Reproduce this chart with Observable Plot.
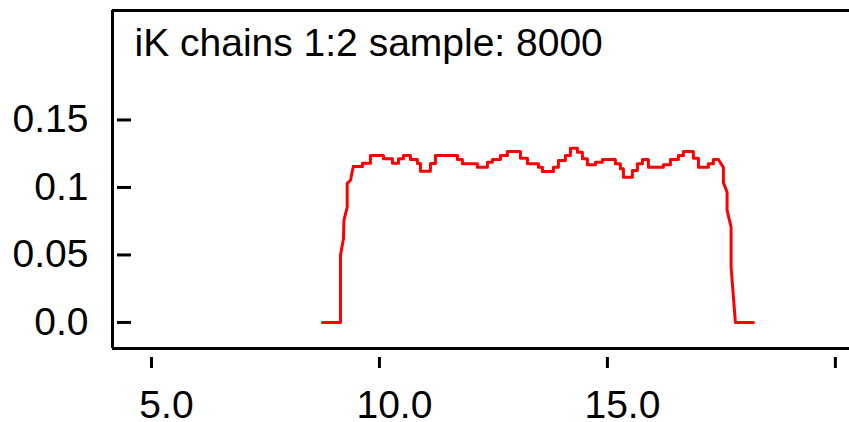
<!DOCTYPE html>
<html>
<head>
<meta charset="utf-8">
<script src="https://cdn.jsdelivr.net/npm/d3@7"></script>
<script src="https://cdn.jsdelivr.net/npm/@observablehq/plot@0.6"></script>
<style>
  html, body { margin: 0; padding: 0; background: #fff; }
  #chart svg { display: block; }
</style>
</head>
<body>
<div id="chart"></div>
<script>
// ---- data ----
const titleText = "iK chains 1:2 sample: 8000";
const xTickValues = [5, 10, 15, 20];
const xTickLabels = ["5.0", "10.0", "15.0", ""];
const yTickValues = [0, 0.05, 0.1, 0.15];
const yTickLabels = ["0.0", "0.05", "0.1", "0.15"];
const xDomain = [4.145, 20.31];
const yDomain = [-0.0193, 0.2311];

// rising edge of the density (polyline)
const riseX = [8.750, 9.145, 9.145, 9.211, 9.221, 9.292, 9.292, 9.364, 9.408, 9.430];
const riseY = [0, 0, 0.0496, 0.0622, 0.0756, 0.0852, 0.1030, 0.1052, 0.1126, 0.1156];

// plateau of the density (staircase, value holds until next x)
const stepX = [9.430, 9.627, 9.803, 10.088, 10.285, 10.417, 10.526, 10.680, 10.833, 10.899,
               11.118, 11.228, 11.711, 11.820, 12.149, 12.368, 12.478, 12.654, 12.807, 13.092,
               13.246, 13.487, 13.575, 13.816, 13.925, 14.079, 14.189, 14.342, 14.452, 14.561,
               14.737, 14.890, 15.175, 15.285, 15.351, 15.548, 15.658, 15.768, 15.899, 16.228,
               16.382, 16.557, 16.667, 16.886, 16.996, 17.215, 17.325, 17.434];
const stepY = [0.1156, 0.1180, 0.1237, 0.1213, 0.1180, 0.1213, 0.1237, 0.1207, 0.1178, 0.1121,
               0.1178, 0.1237, 0.1207, 0.1176, 0.1150, 0.1187, 0.1207, 0.1237, 0.1267, 0.1217,
               0.1176, 0.1150, 0.1119, 0.1150, 0.1200, 0.1237, 0.1291, 0.1261, 0.1213, 0.1168,
               0.1187, 0.1207, 0.1176, 0.1139, 0.1076, 0.1126, 0.1176, 0.1207, 0.1150, 0.1168,
               0.1207, 0.1237, 0.1267, 0.1217, 0.1150, 0.1176, 0.1207, 0.1207];

// falling edge of the density (polyline)
const fallX = [17.434, 17.544, 17.544, 17.625, 17.625, 17.713, 17.713, 17.807, 18.202];
const fallY = [0.1207, 0.1148, 0.1037, 0.0965, 0.0830, 0.0706, 0.0410, 0, 0];

// ---- build tables ----
const rise = riseX.map((x, i) => ({x, y: riseY[i]}));
const steps = stepX.map((x, i) => ({x, y: stepY[i]}));
const fall = fallX.map((x, i) => ({x, y: fallY[i]}));
const xLabelOf = new Map(xTickValues.map((v, i) => [v, xTickLabels[i]]));
const yLabelOf = new Map(yTickValues.map((v, i) => [v, yTickLabels[i]]));

const ink = "#000";
const red = "#ff0000";
const fontSize = 39;

const chart = Plot.plot({
  width: 849,
  height: 422,
  marginLeft: 112,
  marginRight: 0,
  marginTop: 10,
  marginBottom: 74,
  style: {fontFamily: "'Liberation Sans', Arial, sans-serif", fontSize: fontSize + "px", background: "#fff", color: ink},
  x: {domain: xDomain},
  y: {domain: yDomain},
  marks: [
    // frame: left, bottom and top lines
    Plot.ruleX([xDomain[0]], {stroke: ink, strokeWidth: 3}),
    Plot.ruleY([yDomain[0], yDomain[1]], {stroke: ink, strokeWidth: 3}),
    // x ticks (detached below the axis line)
    Plot.axisX({ticks: xTickValues, tickSize: 11, dy: 9, tickFormat: () => "", strokeWidth: 3, label: null}),
    // x tick labels
    Plot.axisX({ticks: xTickValues, tickSize: 0, tickPadding: 42, dx: 15, tickFormat: d => xLabelOf.get(d), label: null, fontSize: fontSize}),
    // y ticks (inside the frame)
    Plot.axisY({ticks: yTickValues, tickSize: 14, dx: 19, tickFormat: () => "", strokeWidth: 3, label: null}),
    // y tick labels
    Plot.axisY({ticks: yTickValues, tickSize: 0, tickPadding: 24, tickFormat: d => yLabelOf.get(d), label: null, fontSize: fontSize}),
    // density curve
    Plot.line(rise, {x: "x", y: "y", stroke: red, strokeWidth: 3, curve: "linear"}),
    Plot.line(steps, {x: "x", y: "y", stroke: red, strokeWidth: 3, curve: "step-after"}),
    Plot.line(fall, {x: "x", y: "y", stroke: red, strokeWidth: 3, curve: "linear"}),
    // title inside the frame
    Plot.text([titleText], {frameAnchor: "top-left", textAnchor: "start", lineAnchor: "top", dx: 22, dy: 18, fontSize: fontSize, fill: ink, text: d => d})
  ]
});
document.getElementById("chart").appendChild(chart);
</script>
</body>
</html>
